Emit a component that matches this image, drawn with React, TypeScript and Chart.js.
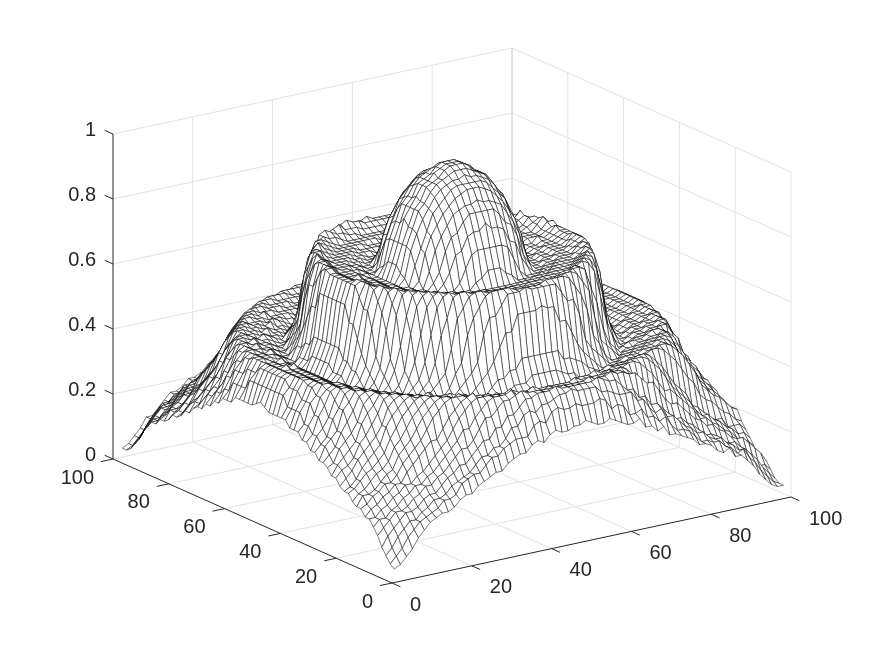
import React, { useEffect, useRef } from "react";
import { Chart, registerables } from "chart.js";

Chart.register(...registerables);

// surface heights in percent of the z axis; rows run along y, columns along x
const xGrid = [2,3.5,5,6.5,8,9.5,11,12.5,14,15.5,17,18.5,20,21.5,23,24.5,26,27.5,29,30.5,32,33.5,35,36.5,38,39.5,41,42.5,44,45.5,47,48.5,50,51.5,53,54.5,56,57.5,59,60.5,62,63.5,65,66.5,68,69.5,71,72.5,74,75.5,77,78.5,80,81.5,83,84.5,86,87.5,89,90.5,92,93.5,95,96.5,98,99.5];
const yGrid = xGrid;
const zRows = [
[3,4,6,8,11,13,15,16,17,17,18,20,21,21,23,24,25,26,26,28,29,30,30,32,33,32,34,35,34,34,35,35,36,35,34,34,35,34,33,32,32,33,30,30,28,29,26,26,25,24,23,21,21,20,18,17,18,15,15,13,11,8,6,4,3,3],
[4,6,8,11,13,15,16,17,18,20,20,21,24,25,26,26,28,30,30,32,33,34,34,34,37,38,37,40,41,40,40,41,40,40,40,41,40,37,38,37,34,34,35,32,32,30,31,28,26,26,25,23,21,21,20,20,18,17,15,16,13,11,8,6,4,3],
[6,8,11,13,15,15,17,18,20,20,21,23,24,25,26,28,30,30,32,32,34,37,37,40,41,40,42,42,43,44,44,45,44,44,44,44,42,42,41,40,40,40,37,37,34,32,33,30,30,28,26,25,23,23,21,20,20,18,17,15,15,13,11,8,6,4],
[8,11,13,15,17,17,18,20,21,21,23,25,26,28,28,30,32,34,34,37,37,40,40,42,44,44,45,45,45,46,45,45,45,45,45,45,46,45,44,44,42,40,40,37,37,34,34,32,30,28,28,26,25,23,21,21,20,18,17,17,15,13,11,8,8,6],
[11,13,15,17,17,18,20,21,23,23,25,26,28,30,32,32,34,37,40,40,42,44,44,45,46,45,45,45,44,44,44,45,44,44,44,44,44,45,45,46,45,45,44,44,42,40,40,37,34,32,32,30,28,26,25,23,23,21,20,18,17,17,15,13,11,8],
[13,15,15,17,18,20,21,23,23,25,26,28,30,32,34,37,37,40,42,44,45,45,45,46,44,44,44,44,44,44,44,44,44,44,44,44,45,44,44,45,45,45,44,42,40,37,37,34,32,30,28,26,25,23,23,21,20,18,17,15,15,13,11,11,8,6],
[15,15,17,18,20,21,23,23,25,26,28,30,32,34,37,40,42,44,45,45,45,44,44,44,45,44,44,43,43,43,44,43,43,43,43,43,43,44,44,44,45,44,45,44,42,40,37,34,32,30,28,26,25,23,23,21,20,18,17,15,15,15,13,11,11,8],
[15,17,18,20,21,23,23,26,28,30,32,34,34,37,40,42,44,45,46,44,44,44,44,43,43,43,43,43,44,43,43,43,43,43,43,44,43,43,43,43,44,44,44,44,45,45,44,42,40,37,34,34,32,30,28,26,23,23,21,20,18,17,15,13,13,11],
[17,18,20,21,23,23,25,28,30,32,34,37,40,42,44,45,45,45,44,44,44,43,43,43,43,44,42,42,42,42,42,42,42,42,42,42,43,43,43,44,43,43,44,44,44,45,45,45,44,42,40,37,34,32,30,28,25,23,23,21,20,18,17,15,15,13],
[17,20,20,21,23,25,26,30,32,34,37,40,42,44,45,45,44,45,44,43,43,43,43,42,42,42,41,41,41,42,41,41,41,41,41,41,41,41,42,42,42,43,44,43,43,44,44,45,45,44,42,40,37,34,32,30,26,25,23,21,20,20,17,17,17,15],
[18,20,21,23,25,26,28,32,34,37,40,42,44,45,45,44,44,43,43,43,43,42,42,41,42,41,41,43,43,43,45,45,45,45,45,44,43,43,41,41,41,41,42,42,43,43,43,43,44,44,45,45,44,42,40,37,34,32,28,26,25,23,21,20,18,17],
[20,21,23,25,26,28,30,34,37,40,42,44,45,45,44,44,43,44,43,42,42,41,41,41,43,45,45,47,47,50,50,50,50,50,50,50,47,47,46,45,43,42,41,41,41,42,42,43,43,43,44,44,45,45,44,42,40,37,34,30,28,26,25,23,21,20],
[20,21,23,26,28,30,32,37,40,42,44,45,44,44,45,43,43,43,42,41,42,41,43,45,47,50,54,58,58,63,63,63,63,64,63,63,58,58,54,50,47,45,43,41,41,41,42,43,43,43,44,44,44,45,44,42,40,37,32,30,28,26,23,21,20,20],
[21,23,25,28,30,32,34,37,42,44,45,45,44,44,43,44,42,42,41,41,43,45,47,50,58,63,63,66,69,69,69,70,69,69,69,69,69,66,63,63,58,50,47,45,43,41,41,42,42,43,43,44,44,45,45,44,42,37,34,32,30,28,25,23,21,20],
[23,25,26,28,32,34,37,40,44,45,45,44,44,43,43,42,42,41,41,43,47,50,58,63,66,69,70,70,70,70,69,69,69,69,69,70,70,70,70,69,66,63,58,50,47,43,41,41,42,42,43,43,44,44,45,45,44,40,37,34,32,28,26,25,23,21],
[23,26,28,30,32,37,40,42,45,45,44,44,43,43,42,42,41,43,45,47,54,63,66,69,70,70,69,69,69,68,68,68,68,68,68,68,69,69,69,70,70,69,66,63,54,47,45,43,41,42,42,43,43,44,44,45,45,42,40,37,32,30,28,26,23,21],
[25,26,30,32,34,37,42,44,45,44,44,43,43,42,42,41,43,45,50,58,63,69,70,70,69,69,68,68,67,67,67,67,67,67,67,67,67,68,68,69,69,70,70,69,63,58,50,45,43,41,42,42,43,43,44,44,45,44,42,37,34,32,30,26,25,23],
[26,28,30,34,37,40,44,45,45,44,43,43,43,42,41,43,45,50,58,66,69,70,69,69,68,67,67,67,67,67,67,67,67,67,67,67,67,67,67,68,69,69,70,69,66,58,50,45,43,41,42,43,43,43,44,45,45,44,40,37,34,30,28,26,23,23],
[26,30,32,34,40,42,45,45,44,44,43,43,42,41,41,45,50,58,66,69,70,69,68,67,67,67,67,67,67,67,66,66,66,66,66,67,67,67,67,67,67,67,68,69,70,69,66,58,50,45,41,41,42,43,43,44,44,45,45,42,40,34,32,30,26,25],
[28,30,32,37,40,44,45,44,44,43,43,42,41,41,43,47,58,66,69,70,69,68,67,67,67,67,67,66,66,66,66,66,66,66,66,66,66,66,67,67,67,67,67,68,69,70,69,66,58,47,43,41,41,42,43,43,44,44,45,44,40,37,32,30,28,25],
[28,32,34,37,42,45,45,44,44,43,43,42,41,43,47,54,63,69,70,69,68,67,67,67,67,66,66,66,66,66,65,65,65,65,65,66,66,66,66,66,67,67,67,67,68,69,70,69,63,54,47,43,41,42,43,43,44,44,45,45,42,37,34,32,28,26],
[30,32,37,40,44,45,44,44,43,43,42,41,41,45,50,63,69,70,69,68,67,67,67,67,66,66,66,65,65,65,65,65,65,65,65,65,65,65,66,66,66,67,67,67,67,68,69,70,69,63,50,45,41,41,42,43,43,44,44,45,44,40,37,32,30,26],
[30,34,37,42,44,45,44,44,43,43,42,41,43,47,58,66,70,69,68,67,67,67,67,66,66,65,65,65,65,67,68,70,70,70,68,67,65,65,65,65,66,66,67,67,67,67,68,69,70,66,58,47,43,41,42,43,43,44,44,45,44,42,37,34,30,28],
[32,34,40,42,45,45,44,43,43,42,41,41,45,50,63,69,70,68,67,67,67,67,66,66,65,65,65,67,71,75,76,76,76,76,76,75,71,67,65,65,65,66,66,67,67,67,67,68,70,69,63,50,45,41,41,42,43,43,44,45,45,42,40,34,32,28],
[32,37,40,44,45,44,44,43,43,42,41,43,47,58,66,70,69,68,67,67,67,66,66,65,65,67,70,75,76,80,81,81,83,81,81,80,76,75,70,67,65,65,66,66,67,67,67,68,69,70,66,58,47,43,41,42,43,43,44,44,45,44,40,37,32,30],
[32,37,40,44,45,44,44,43,43,42,41,45,50,63,69,70,69,67,67,67,66,66,65,65,67,70,76,80,81,84,86,86,86,86,86,84,81,80,76,70,67,65,65,66,66,67,67,67,69,70,69,63,50,45,41,42,43,43,44,44,45,44,40,37,32,30],
[34,37,42,45,45,44,44,43,42,41,41,45,54,63,70,69,68,67,67,67,66,66,65,65,70,76,80,83,86,87,88,88,89,88,88,87,86,83,80,76,70,65,65,66,66,67,67,67,68,69,70,63,54,45,41,41,42,43,44,44,45,45,42,37,34,30],
[34,37,42,45,45,44,43,43,42,41,43,47,58,66,70,69,68,67,67,66,66,65,65,67,75,80,83,86,88,90,91,92,92,92,91,90,88,86,83,80,75,67,65,65,66,66,67,67,68,69,70,66,58,47,43,41,42,43,43,44,45,45,42,37,34,30],
[34,40,42,45,44,44,43,43,42,41,43,47,58,69,70,69,67,67,67,66,66,65,65,71,76,81,86,88,90,92,93,93,93,93,93,92,90,88,86,81,76,71,65,65,66,66,67,67,67,69,70,69,58,47,43,41,42,43,43,44,44,45,42,40,34,32],
[34,40,44,45,44,44,43,43,42,41,43,50,63,69,70,68,67,67,67,66,66,65,67,75,80,84,87,90,92,93,94,94,95,94,94,93,92,90,87,84,80,75,67,65,66,66,67,67,67,68,70,69,63,50,43,41,42,43,43,44,44,45,44,40,34,32],
[34,40,44,45,44,44,43,43,42,41,45,50,63,69,69,68,67,67,67,66,65,65,68,76,81,86,88,91,93,94,95,96,96,96,95,94,93,91,88,86,81,76,68,65,65,66,67,67,67,68,69,69,63,50,45,41,42,43,43,44,44,45,44,40,34,32],
[35,40,44,45,44,44,43,43,42,41,45,50,63,69,69,68,67,67,66,66,65,65,70,76,81,86,88,92,93,94,96,97,97,97,96,94,93,92,88,86,81,76,70,65,65,66,66,67,67,68,69,69,63,50,45,41,42,43,43,44,44,45,44,40,35,32],
[36,40,44,45,44,44,43,43,42,41,45,50,63,69,69,68,67,67,66,66,65,65,70,76,83,86,89,92,93,95,96,97,97,97,96,95,93,92,89,86,83,76,70,65,65,66,66,67,67,68,69,69,63,50,45,41,42,43,43,44,44,45,44,40,36,32],
[35,40,44,45,44,45,43,43,42,41,45,50,63,69,69,68,67,68,66,66,65,65,70,76,81,86,88,92,93,94,96,97,97,97,96,94,93,92,88,86,81,76,70,65,65,66,66,68,67,68,70,69,63,50,45,41,42,43,44,44,44,45,44,40,35,32],
[34,40,44,45,44,44,43,44,42,41,45,50,63,69,69,68,67,67,67,66,65,65,68,76,81,86,88,91,93,94,95,96,96,96,95,94,93,91,88,86,81,76,68,65,65,66,67,67,67,68,69,69,63,50,45,41,42,43,43,44,44,45,44,40,34,32],
[34,40,44,45,44,44,43,43,42,41,43,50,63,70,70,68,67,67,67,66,66,65,67,75,80,84,87,90,92,93,94,94,95,94,94,93,92,90,87,84,80,75,67,65,66,66,67,67,67,68,70,70,63,50,43,41,42,43,43,44,44,45,44,40,34,32],
[34,40,42,45,44,44,43,43,42,41,43,47,58,69,70,69,67,67,67,67,66,65,65,71,76,81,86,88,90,92,93,93,93,93,93,92,90,88,86,81,76,71,65,65,66,66,67,67,67,69,71,69,58,47,43,41,42,43,43,44,44,45,42,40,34,32],
[34,37,42,45,45,44,43,44,42,41,43,47,58,66,70,69,68,67,67,66,66,65,65,67,75,80,83,86,88,90,91,92,92,92,91,90,88,86,83,80,75,67,65,65,66,67,67,67,68,69,70,66,58,47,43,41,42,43,43,44,45,45,42,37,34,30],
[34,37,42,45,45,44,44,43,42,41,41,45,54,63,70,70,68,67,67,67,66,66,65,65,70,76,80,83,86,87,88,88,89,88,88,87,86,83,80,76,70,65,65,66,66,67,67,67,68,70,70,63,54,45,41,41,42,43,44,44,45,45,42,37,34,30],
[32,37,40,44,45,44,44,44,43,42,41,45,50,63,69,70,69,67,67,67,66,66,65,65,67,70,76,80,81,84,86,86,86,86,86,84,81,80,76,70,67,65,65,66,66,67,67,67,69,70,69,63,50,45,41,42,43,43,44,44,45,44,40,37,32,30],
[32,37,40,44,45,44,44,43,43,42,41,43,47,58,66,71,69,68,67,67,67,66,66,65,65,67,70,75,76,80,81,81,83,81,81,80,76,75,70,67,65,65,66,66,67,67,67,68,69,71,66,58,47,43,41,42,43,43,44,44,45,44,40,37,32,30],
[32,34,40,42,45,45,44,43,44,42,41,41,45,50,63,69,70,68,67,67,67,67,66,66,65,65,65,67,71,75,76,76,76,76,76,75,71,67,65,65,65,66,66,67,67,67,67,68,70,69,63,50,45,41,41,42,43,43,44,45,45,42,40,34,32,28],
[30,34,37,42,44,45,44,44,43,43,42,41,43,47,58,66,70,70,68,67,67,67,67,66,66,65,65,65,65,67,68,70,70,70,68,67,65,65,65,65,66,66,67,67,67,67,68,69,71,66,58,47,43,41,42,43,43,44,44,45,44,42,37,34,30,28],
[30,32,37,40,44,45,44,45,43,43,42,41,41,45,50,63,69,70,69,68,67,67,67,67,66,66,66,65,65,65,65,65,65,65,65,65,65,65,66,66,66,67,67,67,67,68,69,70,69,63,50,45,41,41,42,43,43,44,44,45,44,40,37,32,30,26],
[28,32,34,37,42,45,45,44,44,43,43,42,41,43,47,54,63,69,71,69,68,67,67,67,67,66,66,66,66,66,65,65,65,65,65,66,66,66,66,66,67,67,67,67,68,69,71,69,63,54,47,43,41,42,43,43,44,44,45,45,42,37,34,32,28,26],
[28,30,32,37,40,44,45,44,45,43,43,42,41,41,43,47,58,66,69,70,69,68,67,67,67,67,67,66,66,66,66,66,66,66,66,66,66,66,67,67,67,67,67,68,69,70,69,66,58,47,43,41,41,42,43,43,44,44,45,44,40,37,32,30,28,25],
[26,30,32,34,40,42,45,45,44,44,43,43,42,41,41,45,50,58,66,70,70,69,68,67,67,67,67,67,67,67,66,66,66,66,66,67,67,67,67,67,67,67,68,69,71,69,66,58,50,45,41,41,42,43,43,44,44,45,45,42,40,34,32,30,26,25],
[26,28,30,34,37,40,44,45,45,44,43,44,43,42,41,43,45,50,58,66,69,70,69,69,68,67,67,67,67,67,67,67,67,67,67,67,67,67,67,68,69,69,70,69,66,58,50,45,43,41,42,43,43,43,44,45,45,44,40,37,34,30,28,26,23,23],
[25,26,30,32,34,37,42,44,45,44,44,43,43,42,42,41,43,45,50,58,63,70,71,70,69,69,68,68,67,67,67,67,67,67,67,67,67,68,68,69,69,70,71,69,63,58,50,45,43,41,42,42,43,43,44,44,45,44,42,37,34,32,30,26,25,23],
[23,26,28,30,32,37,40,42,45,45,44,44,43,44,42,42,41,43,45,47,54,63,66,69,70,71,69,69,69,68,68,68,68,68,68,68,69,69,69,71,70,69,66,63,54,47,45,43,41,42,42,43,44,44,44,45,45,42,40,37,32,30,28,26,23,21],
[23,25,26,28,32,34,37,40,44,45,45,44,44,43,43,42,42,41,41,43,47,50,58,63,66,69,70,71,70,70,69,69,69,69,69,70,70,71,70,69,66,63,58,50,47,43,41,41,42,42,43,43,44,45,45,45,44,40,37,34,32,28,26,25,23,21],
[21,23,25,28,30,32,34,37,42,44,45,45,44,44,43,44,42,42,41,41,43,45,47,50,58,63,63,66,69,69,69,70,69,69,69,69,69,66,63,63,58,50,47,45,43,41,41,42,42,43,43,44,44,45,45,44,42,37,34,32,30,28,25,23,21,20],
[20,21,23,26,28,30,32,37,40,42,44,45,44,44,44,43,44,43,42,41,41,41,43,45,47,50,54,58,58,63,63,63,63,63,63,63,58,58,54,50,47,45,43,41,41,41,42,43,43,43,44,44,44,45,44,42,40,37,32,30,28,26,23,21,20,20],
[20,21,23,25,26,28,30,34,37,40,42,44,45,45,44,44,43,43,43,42,42,41,41,41,43,45,45,47,47,50,50,50,50,50,50,50,47,47,45,45,43,41,41,41,42,42,43,43,43,44,44,45,45,44,42,40,37,34,30,28,26,25,23,21,20,18],
[18,20,21,23,25,26,28,32,34,37,40,42,44,45,45,44,45,43,43,43,43,42,42,41,41,41,41,43,43,43,45,45,45,45,45,43,43,43,41,41,41,41,42,42,43,43,43,43,44,44,45,45,44,42,40,37,34,32,28,26,25,23,21,20,18,17],
[17,20,20,21,23,25,26,30,32,34,37,40,42,44,45,45,44,44,44,43,43,43,43,42,42,42,41,41,41,41,41,41,41,41,41,41,41,41,42,42,42,43,43,43,43,44,44,44,45,45,44,42,40,37,34,32,30,26,25,23,21,20,20,17,17,15],
[17,18,20,21,23,23,25,28,30,32,34,37,40,42,44,45,45,45,44,44,44,43,43,43,43,43,42,42,42,42,42,42,42,42,42,42,42,42,42,43,43,43,43,43,44,44,44,45,45,45,44,42,40,37,34,32,30,28,25,23,23,21,20,18,17,15],
[15,17,18,20,21,23,23,26,28,30,32,34,34,37,40,42,44,45,45,44,44,44,44,43,43,43,43,43,43,43,43,43,43,43,43,43,43,43,43,43,43,44,44,44,44,45,45,44,42,40,37,34,34,32,30,28,26,23,23,21,20,18,17,15,13,11],
[15,15,17,18,20,21,23,23,25,26,28,30,32,34,37,40,42,44,45,45,45,44,44,44,44,44,44,43,43,43,43,43,43,43,43,43,43,43,43,44,44,44,44,44,44,45,45,45,44,42,40,37,34,32,30,28,26,25,23,23,21,20,18,17,15,15],
[13,15,15,17,18,20,21,23,23,25,26,28,30,32,34,37,37,40,42,44,45,45,45,45,44,44,44,44,44,44,44,44,44,44,44,44,44,44,44,44,44,45,45,45,45,44,42,40,37,37,34,32,30,28,26,25,23,23,21,20,18,17,15,15,13,11],
[11,13,15,17,17,18,20,21,23,23,25,26,28,30,32,32,34,37,40,40,42,44,44,45,45,45,45,45,44,44,44,44,44,44,44,44,44,45,45,45,45,45,44,44,42,40,40,37,34,32,32,30,28,26,25,23,23,21,20,18,17,17,15,13,11,8],
[8,11,13,15,17,17,18,20,21,21,23,25,26,28,28,30,32,34,34,37,37,40,40,42,44,44,45,45,45,45,45,45,45,45,45,45,45,45,45,44,44,42,40,40,37,37,34,34,32,30,28,28,26,25,23,21,21,20,18,17,17,15,13,11,8,6],
[6,8,11,13,15,15,17,18,20,20,21,23,23,25,26,28,30,30,32,32,34,37,37,40,40,40,42,42,42,44,44,44,44,44,44,44,44,42,42,42,40,40,40,37,37,34,32,32,30,30,28,26,25,23,23,21,20,20,18,17,15,15,13,11,8,6],
[4,6,8,11,13,15,15,17,18,20,20,21,23,25,26,26,28,30,30,32,32,34,34,34,37,37,37,40,40,40,40,40,40,40,40,40,40,37,37,37,34,34,34,32,32,30,30,28,26,26,25,23,21,21,20,20,18,17,15,15,13,11,8,6,4,3],
[3,4,6,8,11,13,15,15,17,17,18,20,20,21,23,23,25,26,26,28,28,30,30,32,32,32,34,34,34,34,34,35,36,35,34,34,34,34,34,32,32,32,30,30,28,28,26,26,25,23,23,21,20,20,18,17,17,15,15,13,11,8,6,4,3,3],
[3,4,6,8,11,11,13,15,17,17,18,20,20,21,21,23,23,25,25,26,26,28,28,30,30,30,30,32,32,32,32,32,32,32,32,32,32,30,30,30,30,28,28,26,26,25,25,23,23,21,21,20,20,18,17,17,15,13,11,11,8,6,4,3,3,2],
];
const gridTicks = [20, 40, 60, 80];
const xTicks = [0, 20, 40, 60, 80, 100];
const yTicks = [0, 20, 40, 60, 80, 100];
const zTicks = [0, 0.2, 0.4, 0.6, 0.8, 1];
const zTickLabels = ["0", "0.2", "0.4", "0.6", "0.8", "1"];

const project = (x: number, y: number, z: number) => ({
  x: 392 + x * 3.99 - y * 2.79,
  y: 583 - x * 0.86 - y * 1.24 - z * 325,
});

const lineDs = (pts: number[][], color: string, width: number) => ({
  data: pts.map((p) => project(p[0], p[1], p[2])),
  showLine: true,
  borderColor: color,
  borderWidth: width,
  pointRadius: 0,
  fill: false,
  tension: 0,
});

const AXIS = "#262626";
const GRID = "#e2e2e2";

function buildDatasets() {
  const ds: any[] = [];
  // axes and ticks (top)
  ds.push(lineDs([[0, 0, 0], [100, 0, 0]], AXIS, 1));
  ds.push(lineDs([[0, 0, 0], [0, 100, 0]], AXIS, 1));
  ds.push(lineDs([[0, 100, 0], [0, 100, 1]], AXIS, 1));
  xTicks.forEach((t) => ds.push(lineDs([[t, 0, 0], [t, -3, 0]], AXIS, 1)));
  yTicks.forEach((t) => ds.push(lineDs([[0, t, 0], [-3, t, 0]], AXIS, 1)));
  zTicks.forEach((t) => ds.push(lineDs([[0, 100, t], [0, 103, t]], AXIS, 1)));
  // mesh cells, nearest first so that nearer cells hide farther ones
  const rows = Math.min(yGrid.length, zRows.length);
  const h = (a: number, b: number) => {
    const r = zRows[b];
    return (r[a] ?? r[r.length - 1]) / 100;
  };
  for (let j = 0; j < rows - 1; j++) {
    for (let i = 0; i < xGrid.length - 1; i++) {
      ds.push({
        data: [
          project(xGrid[i], yGrid[j], h(i, j)),
          project(xGrid[i + 1], yGrid[j], h(i + 1, j)),
          project(xGrid[i + 1], yGrid[j + 1], h(i + 1, j + 1)),
          project(xGrid[i], yGrid[j + 1], h(i, j + 1)),
          project(xGrid[i], yGrid[j], h(i, j)),
        ],
        showLine: true,
        borderColor: "#000000",
        borderWidth: 0.5,
        backgroundColor: "#ffffff",
        fill: "shape",
        pointRadius: 0,
        tension: 0,
      });
    }
  }
  // back walls and floor grid (bottom)
  ds.push(lineDs([[100, 100, 0], [100, 100, 1]], "#c4c4c4", 1));
  ds.push(lineDs([[100, 0, 0], [100, 0, 1]], GRID, 1));
  ds.push(lineDs([[0, 100, 1], [100, 100, 1]], GRID, 1));
  ds.push(lineDs([[100, 100, 1], [100, 0, 1]], GRID, 1));
  ds.push(lineDs([[0, 100, 0], [100, 100, 0]], GRID, 1));
  ds.push(lineDs([[100, 100, 0], [100, 0, 0]], GRID, 1));
  zTicks.slice(1, 5).forEach((t) => {
    ds.push(lineDs([[0, 100, t], [100, 100, t]], GRID, 1));
    ds.push(lineDs([[100, 100, t], [100, 0, t]], GRID, 1));
  });
  gridTicks.forEach((t) => {
    ds.push(lineDs([[t, 0, 0], [t, 100, 0], [t, 100, 1]], GRID, 1));
    ds.push(lineDs([[0, t, 0], [100, t, 0], [100, t, 1]], GRID, 1));
  });
  return ds;
}

const tickLabelPlugin = {
  id: "tickLabels",
  afterDraw(chart: any) {
    const { ctx, scales } = chart;
    ctx.save();
    ctx.fillStyle = AXIS;
    ctx.font = '20px "Liberation Sans"';
    ctx.textBaseline = "middle";
    const put = (x: number, y: number, z: number, dx: number, dy: number, text: string, align: CanvasTextAlign) => {
      const p = project(x, y, z);
      ctx.textAlign = align;
      ctx.fillText(text, scales.x.getPixelForValue(p.x) + dx, scales.y.getPixelForValue(p.y) + dy);
    };
    xTicks.forEach((t) => put(t, 0, 0, 18, 22, String(t), "left"));
    yTicks.forEach((t) => put(0, t, 0, -19, 19, String(t), "right"));
    zTicks.forEach((t, k) => put(0, 100, t, -17, -4, zTickLabels[k], "right"));
    ctx.restore();
  },
};

export default function App() {
  const ref = useRef<HTMLCanvasElement>(null);
  useEffect(() => {
    document.body.style.margin = "0";
    document.body.style.background = "#fff";
    const chart = new Chart(ref.current!, {
      type: "scatter",
      data: { datasets: buildDatasets() },
      options: {
        animation: false,
        responsive: false,
        events: [],
        layout: { padding: 0 },
        plugins: { legend: { display: false }, tooltip: { enabled: false } },
        scales: {
          x: { type: "linear", min: 0, max: 875, display: false },
          y: { type: "linear", min: 0, max: 656, reverse: true, display: false },
        },
      },
      plugins: [tickLabelPlugin],
    });
    return () => chart.destroy();
  }, []);
  return <canvas ref={ref} width={875} height={656} style={{ display: "block" }} />;
}
